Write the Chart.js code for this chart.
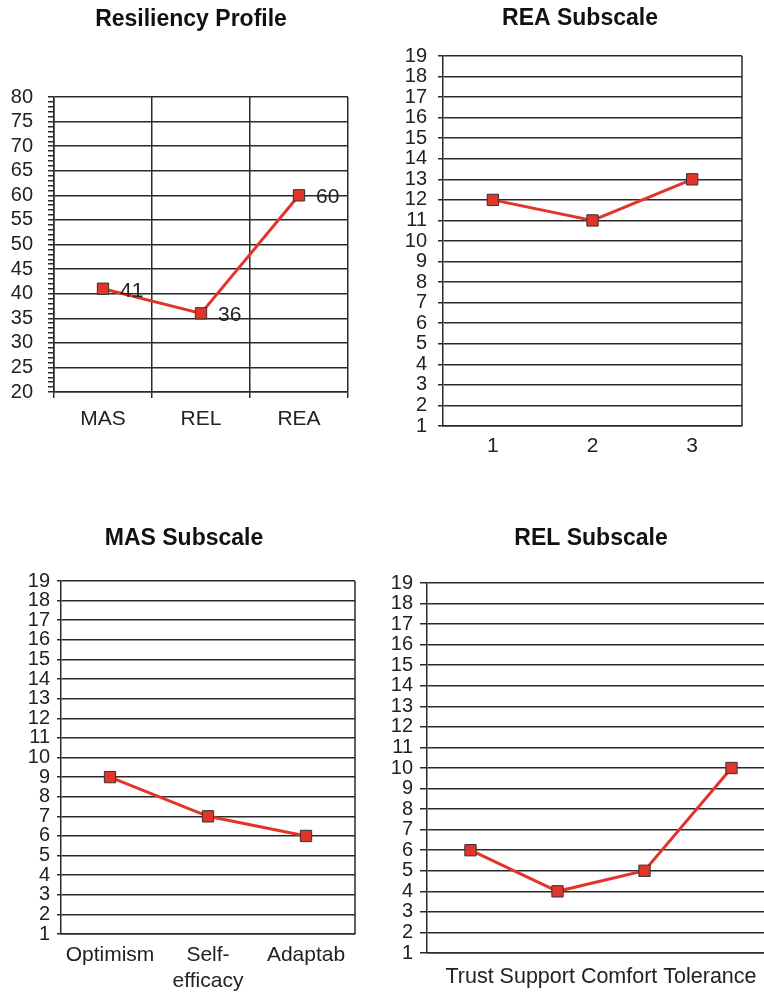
<!DOCTYPE html>
<html>
<head>
<meta charset="utf-8">
<title>Resiliency Profile</title>
<script src="https://cdn.jsdelivr.net/npm/chart.js@4.4.1/dist/chart.umd.min.js"></script>
<style>
  html, body { margin: 0; padding: 0; background: #fff; }
  body { width: 764px; height: 993px; overflow: hidden; position: relative; }
  canvas { position: absolute; }
</style>
</head>
<body>
<canvas id="profile-chart" width="382" height="450" style="left:0;top:0"></canvas>
<canvas id="rea-chart" width="368" height="480" style="left:396px;top:0"></canvas>
<canvas id="mas-chart" width="368" height="493" style="left:0;top:500px"></canvas>
<canvas id="rel-chart" width="422" height="493" style="left:380px;top:500px"></canvas>
<script>
// Values
const profileLabels = ['MAS', 'REL', 'REA'];
const profileValues = [41, 36, 60];

const reaLabels = ['1', '2', '3'];
const reaValues = [12, 11, 13];

const masLabels = ['Optimism', ['Self-', 'efficacy'], 'Adaptab'];
const masValues = [9, 7, 6];

const relLabels = ['Trust', 'Support', 'Comfort', 'Tolerance'];
const relValues = [6, 4, 5, 10];

const FONT = "'Liberation Sans', Arial, sans-serif";
const LINE_RED = '#e3342a';
const GRID = '#2a2a2a';

// right edge of the plot is a plain frame line
const rightFrame = {
    id: 'rightFrame',
    afterDatasetsDraw(chart, args, opts) {
        if (!opts.show) return;
        const a = chart.chartArea;
        const ctx = chart.ctx;
        ctx.save();
        ctx.strokeStyle = GRID;
        ctx.lineWidth = 1.5;
        ctx.beginPath();
        ctx.moveTo(a.right, a.top);
        ctx.lineTo(a.right, a.bottom);
        ctx.stroke();
        ctx.restore();
    }
};

// numbers next to the points (only on the profile chart)
const pointValues = {
    id: 'pointValues',
    afterDatasetsDraw(chart, args, opts) {
        if (!opts.show) return;
        const ctx = chart.ctx;
        const meta = chart.getDatasetMeta(0);
        const data = chart.data.datasets[0].data;
        ctx.save();
        ctx.font = '21px ' + FONT;
        ctx.fillStyle = '#222';
        ctx.textAlign = 'left';
        ctx.textBaseline = 'middle';
        meta.data.forEach((pt, i) => {
            ctx.fillText(String(data[i]), pt.x + 17, pt.y + 2);
        });
        ctx.restore();
    }
};

function makeChart(id, o) {
    const ctx = document.getElementById(id).getContext('2d');
    return new Chart(ctx, {
        type: 'line',
        data: {
            labels: o.labels,
            datasets: [{
                data: o.values,
                borderColor: LINE_RED,
                borderWidth: 3,
                tension: 0,
                pointStyle: 'rect',
                pointRadius: 8,
                pointHoverRadius: 8,
                pointBackgroundColor: LINE_RED,
                pointBorderColor: '#333',
                pointBorderWidth: 1
            }]
        },
        options: {
            responsive: false,
            animation: false,
            layout: { padding: 0 },
            scales: {
                x: {
                    type: 'category',
                    offset: true,
                    grid: {
                        display: true,
                        offset: true,
                        color: o.xGrid ? GRID : 'rgba(0,0,0,0)',
                        lineWidth: 1.5,
                        drawTicks: o.xGrid,
                        tickLength: 6,
                        tickColor: GRID
                    },
                    border: { display: true, color: GRID, width: 1.5 },
                    ticks: {
                        display: o.xTicks !== false,
                        color: '#222',
                        font: { family: FONT, size: 21 },
                        padding: o.xPad,
                        maxRotation: 0,
                        autoSkip: false
                    },
                    title: o.xTitle ? {
                        display: true,
                        text: o.xTitle,
                        color: '#222',
                        font: { family: FONT, size: 21.5 },
                        padding: { top: 0, bottom: 3 }
                    } : { display: false },
                    afterFit(scale) { scale.height = o.xHeight; }
                },
                y: {
                    min: o.yMin,
                    max: o.yMax,
                    grid: {
                        color: c => (c.tick && c.tick.value % o.yGridStep === 0) ? GRID : 'rgba(0,0,0,0)',
                        lineWidth: 1.5,
                        tickLength: o.yTickLen,
                        tickColor: GRID,
                        tickWidth: 1.5
                    },
                    border: { display: true, color: GRID, width: 1.5 },
                    ticks: {
                        stepSize: 1,
                        autoSkip: false,
                        color: '#222',
                        padding: o.yPad,
                        font: { family: FONT, size: 20, lineHeight: 1 },
                        callback: v => (v % o.yLabelStep === 0 ? v : '')
                    },
                    afterFit(scale) { scale.width = o.yWidth; }
                },
                // empty right-hand axis: only keeps a margin so the title sits where the original has it
                spacer: {
                    type: 'linear',
                    position: 'right',
                    display: true,
                    grid: { display: false, drawOnChartArea: false },
                    border: { display: false },
                    ticks: { display: false },
                    afterFit(scale) { scale.width = o.rightMargin; }
                }
            },
            plugins: {
                legend: { display: false },
                tooltip: { enabled: false },
                title: {
                    display: true,
                    text: o.title,
                    color: '#111',
                    font: { family: FONT, size: 23, weight: 'bold', lineHeight: 1.2 },
                    padding: o.titlePad
                },
                rightFrame: { show: !o.xGrid },
                pointValues: { show: !!o.showValues }
            }
        },
        plugins: [rightFrame, pointValues]
    });
}

makeChart('profile-chart', {
    title: 'Resiliency Profile',
    labels: profileLabels, values: profileValues,
    yMin: 20, yMax: 80, yGridStep: 5, yLabelStep: 5,
    yWidth: 54, yTickLen: 6, yPad: 15,
    xGrid: true, xPad: 9, xHeight: 58,
    rightMargin: 34, titlePad: { top: 6, bottom: 63.4 },
    showValues: true
});

makeChart('rea-chart', {
    title: 'REA Subscale',
    labels: reaLabels, values: reaValues,
    yMin: 1, yMax: 19, yGridStep: 1, yLabelStep: 1,
    yWidth: 47, yTickLen: 5, yPad: 11,
    xGrid: false, xPad: 8, xHeight: 54,
    rightMargin: 22, titlePad: { top: 5, bottom: 23.4 }
});

makeChart('mas-chart', {
    title: 'MAS Subscale',
    labels: masLabels, values: masValues,
    yMin: 1, yMax: 19, yGridStep: 1, yLabelStep: 1,
    yWidth: 61, yTickLen: 4, yPad: 7,
    xGrid: false, xPad: 9, xHeight: 59,
    rightMargin: 13, titlePad: { top: 25, bottom: 28.4 }
});

makeChart('rel-chart', {
    title: 'REL Subscale',
    labels: relLabels, values: relValues,
    yMin: 1, yMax: 19, yGridStep: 1, yLabelStep: 1,
    yWidth: 47, yTickLen: 7, yPad: 7,
    xGrid: false, xPad: 8, xHeight: 40, xTicks: false,
    xTitle: relLabels.join(' '),
    rightMargin: 27, titlePad: { top: 25, bottom: 30.4 }
});
</script>
</body>
</html>
